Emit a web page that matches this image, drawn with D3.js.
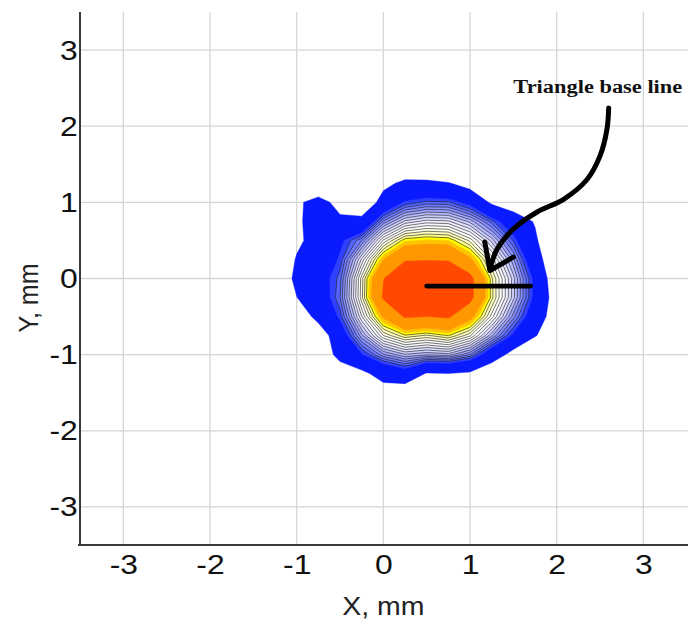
<!DOCTYPE html>
<html>
<head>
<meta charset="utf-8">
<script src="https://cdn.jsdelivr.net/npm/d3@7"></script>
<style>
  body { margin: 0; background: #ffffff; }
  svg { display: block; }
</style>
</head>
<body>
<svg id="chart" width="688" height="623"></svg>
<script>
// Axis ticks (mm)
const xTickValues = [-3, -2, -1, 0, 1, 2, 3];
const yTickValues = [-3, -2, -1, 0, 1, 2, 3];

// Sample grid of the measured spot intensity (arbitrary units), 0.25 mm pitch
const gridX = [-1.5, -1.25, -1, -0.75, -0.5, -0.25, 0, 0.25, 0.5, 0.75, 1, 1.25, 1.5, 1.75, 2, 2.25];
const gridY = [1.5, 1.25, 1, 0.75, 0.5, 0.25, 0, -0.25, -0.5, -0.75, -1, -1.25, -1.5, -1.75];
const intensity = [
  [-40, -40, -40, -40, -40, -40, -17.5, -15, -17.5, -22.5, -30, -40, -40, -40, -40, -40],
  [-40, -40, -30, -25, -25, -20, -4.4, 3.6, 3.6, 1, -6.3, -25, -40, -40, -40, -40],
  [-40, -29, -4.7, 10, -8.75, -15, 7, 17.9, 20.9, 20.55, 14, -2.5, -9.4, -17.5, -25, -40],
  [-40, -27.5, -3, 8, 5, 5.7, 25.5, 35.6, 38.7, 38, 31.7, 21.2, 9.5, -1.25, -22.5, -40],
  [-40, -27.5, -3.5, 7.1, 15.2, 24.8, 42.95, 54.2, 55.7, 54.9, 46.7, 34.05, 19.6, 2.8, -18.75, -40],
  [-40, -17.5, 1.4, 9.4, 18, 38, 58.35, 70.4, 70.8, 70.7, 60, 44.25, 28.2, 8.3, -15, -40],
  [-40, -12.5, 3.5, 12, 21.4, 46.2, 71.5, 87.2, 95.75, 88.15, 76, 50.75, 33.6, 14.6, -11.25, -40],
  [-40, -22.5, -0.25, 10.4, 22.5, 46.6, 73.5, 89.1, 98.6, 89.9, 76, 51, 33.45, 14.6, -8.1, -40],
  [-40, -32.5, -11.25, 5.2, 18.5, 39.8, 59.8, 73.3, 72, 73.7, 61.6, 43.85, 26.2, 10, -9.4, -40],
  [-40, -40, -30, -10, 10.6, 29.2, 45, 52, 49.4, 52.7, 45.5, 30.65, 15.3, 1.5, -15, -40],
  [-40, -40, -40, -13.75, 6.1, 16.2, 27, 32.2, 30.35, 31.4, 25, 9.3, -5.6, -25, -40, -40],
  [-40, -40, -40, -18.75, -10.6, -3.75, 6, 11.7, -1.25, -0.25, -2.5, -12.5, -40, -40, -40, -40],
  [-40, -40, -40, -40, -40, -20, -6.9, -10.6, -20, -20, -22.5, -40, -40, -40, -40, -40],
  [-40, -40, -40, -40, -40, -40, -40, -40, -40, -40, -40, -40, -40, -40, -40, -40]
];

// Filled bands: lower bound of each band and its colour
const fillLevels = [0, 17, 20, 22.5, 25, 27.5, 30, 32.5, 35, 37.5, 40, 42.5, 45, 47.5, 50, 52.5, 55, 58.5, 72];
const fillColors = ["#0a1aff", "#3040ff", "#5565ff", "#6e7aff", "#868eff", "#9ea4ff", "#b6baff",
                    "#cccfff", "#dfe0ff", "#eeeeff", "#f8f8ff", "#ffffff", "#ffffe8", "#ffffc4",
                    "#ffff90", "#ffff00", "#ffc400", "#ff9800", "#ff4800"];
// Isolines drawn in black
const lineLevels = [20, 22.5, 25, 27.5, 30, 32.5, 35, 37.5, 40, 42.5, 45, 47.5, 50, 52.5];

// Annotation (mm)
const baseLineX = [0.5, 1.7];
const baseLineY = [-0.1, -0.1];
const arrowX = [2.6, 2.58, 2.5, 2.35, 2.08, 1.77, 1.5, 1.31, 1.23];
const arrowY = [2.24, 1.96, 1.61, 1.3, 1.04, 0.87, 0.65, 0.38, 0.12];
const arrowHeadX = [1.17, 1.23, 1.5];
const arrowHeadY = [0.48, 0.105, 0.28];
const labelText = "Triangle base line";
const labelPos = [1.5, 2.44];

// Horizontal stretch of the lettering
const stretch = 1.138;

const svg = d3.select("#chart");
const x = d3.scaleLinear().domain([-3.5, 3.5]).range([80, 686.7]);
const y = d3.scaleLinear().domain([-3.5, 3.5]).range([545, 12]);

// Grid lines
const grid = svg.append("g").attr("stroke", "#d6d6d6").attr("stroke-width", 1.3);
grid.selectAll("line.gx").data(xTickValues).join("line")
  .attr("x1", d => x(d)).attr("x2", d => x(d))
  .attr("y1", y.range()[1]).attr("y2", y.range()[0]);
grid.selectAll("line.gy").data(yTickValues).join("line")
  .attr("y1", d => y(d)).attr("y2", d => y(d))
  .attr("x1", x.range()[0]).attr("x2", 688);

// Contours
const nx = gridX.length, ny = gridY.length;
const stepX = gridX[1] - gridX[0], stepY = gridY[0] - gridY[1];
const values = intensity.flat();
const toPlot = d3.geoTransform({
  point(cx, cy) {
    this.stream.point(x(gridX[0] + (cx - 0.5) * stepX), y(gridY[0] - (cy - 0.5) * stepY));
  }
});
const path = d3.geoPath(toPlot);
const contours = d3.contours().size([nx, ny]).smooth(true);

svg.append("g").selectAll("path")
  .data(contours.thresholds(fillLevels)(values))
  .join("path")
  .attr("d", path)
  .attr("fill", (d, i) => fillColors[i])
  .attr("stroke", (d, i) => fillColors[i])
  .attr("stroke-width", 0.4);

svg.append("g").selectAll("path")
  .data(contours.thresholds(lineLevels)(values))
  .join("path")
  .attr("d", path)
  .attr("fill", "none")
  .attr("stroke", "#1a1a1a")
  .attr("stroke-width", 0.6);

// Axes
const axisColor = "#3a3a3a";
svg.append("line").attr("x1", x.range()[0]).attr("x2", x.range()[0])
  .attr("y1", y.range()[1]).attr("y2", y.range()[0] + 1)
  .attr("stroke", axisColor).attr("stroke-width", 2);
svg.append("line").attr("x1", x.range()[0] - 2).attr("x2", 688)
  .attr("y1", y.range()[0]).attr("y2", y.range()[0])
  .attr("stroke", axisColor).attr("stroke-width", 2);

const tickFont = "Liberation Sans, Arial, sans-serif";
const gxAxis = svg.append("g").attr("transform", `translate(0,${y.range()[0]})`)
  .call(d3.axisBottom(x).tickValues(xTickValues).tickSize(0).tickPadding(9).tickFormat(d => String(d)));
const gyAxis = svg.append("g").attr("transform", `translate(${x.range()[0]},0)`)
  .call(d3.axisLeft(y).tickValues(yTickValues).tickSize(0).tickPadding(2).tickFormat(d => String(d)));
[gxAxis, gyAxis].forEach(g => {
  g.select(".domain").remove();
  g.selectAll("text").attr("font-family", tickFont).attr("font-size", 28).attr("fill", "#111")
    .attr("transform", `scale(${stretch},1)`);
});

svg.append("text").attr("transform", `translate(${x(0)},615) scale(${stretch},1)`)
  .attr("text-anchor", "middle").attr("font-family", tickFont).attr("font-size", 25).attr("fill", "#222")
  .text("X, mm");
svg.append("text").attr("transform", `translate(38,298) scale(${stretch},1) rotate(-90)`)
  .attr("text-anchor", "middle").attr("font-family", tickFont).attr("font-size", 25).attr("fill", "#222")
  .text("Y, mm");

// Annotation
const ann = svg.append("g").attr("stroke", "#000").attr("fill", "none")
  .attr("stroke-linecap", "round").attr("stroke-linejoin", "round");
ann.append("path")
  .attr("d", d3.line().x(d => x(d[0])).y(d => y(d[1]))(baseLineX.map((v, i) => [v, baseLineY[i]])))
  .attr("stroke-width", 4.8);
ann.append("path")
  .attr("d", d3.line().curve(d3.curveCatmullRom).x(d => x(d[0])).y(d => y(d[1]))(arrowX.map((v, i) => [v, arrowY[i]])))
  .attr("stroke-width", 5);
ann.append("path")
  .attr("d", d3.line().x(d => x(d[0])).y(d => y(d[1]))(arrowHeadX.map((v, i) => [v, arrowHeadY[i]])))
  .attr("stroke-width", 5);

svg.append("text").attr("transform", `translate(${x(labelPos[0])},${y(labelPos[1])}) scale(${stretch},1)`)
  .attr("font-family", "Liberation Serif, Times New Roman, serif").attr("font-weight", "bold")
  .attr("font-size", 19.7).attr("fill", "#111")
  .text(labelText);
</script>
</body>
</html>
